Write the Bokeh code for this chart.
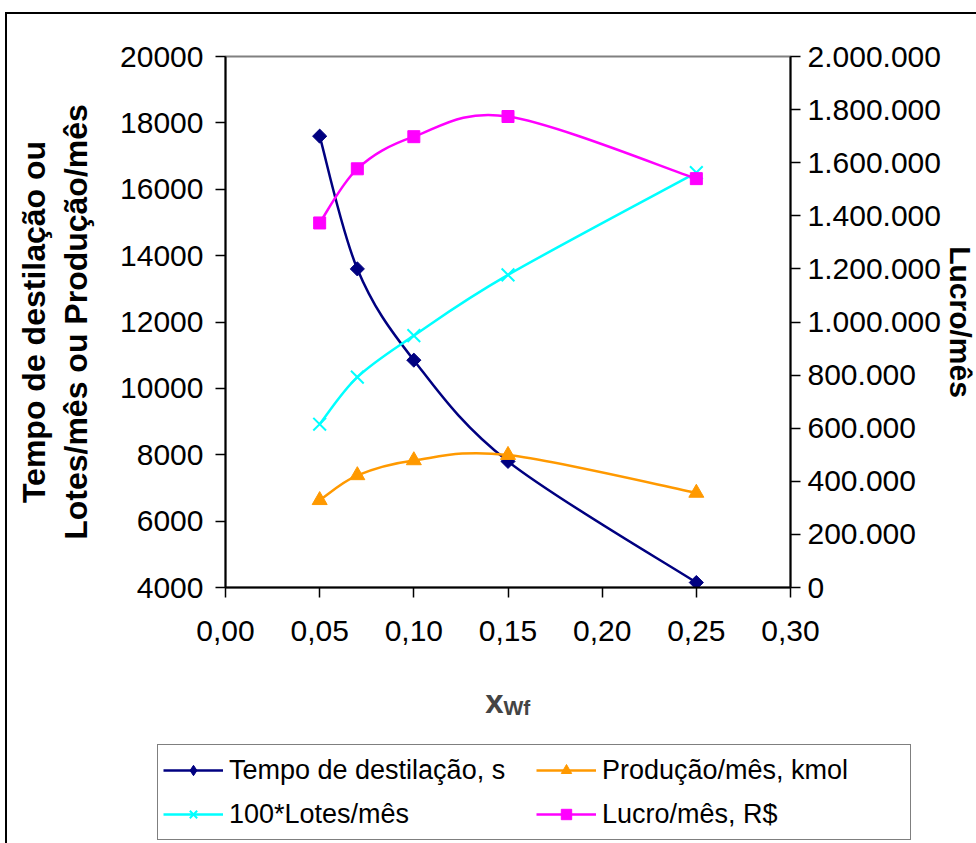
import math

from bokeh.plotting import figure
from bokeh.models import (Range1d, LinearAxis, FixedTicker, Legend, LegendItem,
                          Label, Title, ColumnDataSource)
from bokeh.embed import file_html
from bokeh.resources import INLINE

# ---- data -------------------------------------------------------------
x_wf = [0.05, 0.07, 0.10, 0.15, 0.25]
tempo_destilacao = [17600, 13600, 10850, 7800, 4150]      # s
producao_mes = [6630, 7380, 7830, 7990, 6850]             # kmol
lotes_mes_x100 = [8920, 10340, 11590, 13420, 16500]       # 100*lotes/mes
lucro_mes = [1373000, 1577000, 1698000, 1774000, 1540000]  # R$

x_ticks = [0.0, 0.05, 0.10, 0.15, 0.20, 0.25, 0.30]
x_tick_labels = ["0,00", "0,05", "0,10", "0,15", "0,20", "0,25", "0,30"]
left_ticks = [4000, 6000, 8000, 10000, 12000, 14000, 16000, 18000, 20000]
left_tick_labels = ["4000", "6000", "8000", "10000", "12000", "14000",
                    "16000", "18000", "20000"]
right_ticks = [0, 200000, 400000, 600000, 800000, 1000000, 1200000,
               1400000, 1600000, 1800000, 2000000]
right_tick_labels = ["0", "200.000", "400.000", "600.000", "800.000",
                     "1.000.000", "1.200.000", "1.400.000", "1.600.000",
                     "1.800.000", "2.000.000"]

series_names = ["Tempo de destilação, s", "Produção/mês, kmol",
                "100*Lotes/mês", "Lucro/mês, R$"]

FONT = "Liberation Sans"
NAVY, ORANGE, CYAN, MAGENTA = "#000080", "#FF9900", "#00FFFF", "#FF00FF"
LW = 2.5

STRIP_W = 966
STRIP_H = 183        # strip holding the x title and the legend


def smooth_source(xs, ys):
    """Cubic Bezier pieces through the points (smoothed-line style)."""
    n = len(xs)
    d = {k: [] for k in ("x0", "y0", "x1", "y1", "cx0", "cy0", "cx1", "cy1")}
    for i in range(n - 1):
        a = i - 1 if i > 0 else i
        b = i + 2 if i + 2 < n else i + 1
        d["x0"].append(xs[i]); d["y0"].append(ys[i])
        d["x1"].append(xs[i + 1]); d["y1"].append(ys[i + 1])
        d["cx0"].append(xs[i] + (xs[i + 1] - xs[a]) / 6)
        d["cy0"].append(ys[i] + (ys[i + 1] - ys[a]) / 6)
        d["cx1"].append(xs[i + 1] - (xs[b] - xs[i]) / 6)
        d["cy1"].append(ys[i + 1] - (ys[b] - ys[i]) / 6)
    return ColumnDataSource(d)


# ---- main chart -------------------------------------------------------
p = figure(frame_width=565, frame_height=531,
           min_border_left=218, min_border_top=42,
           min_border_right=186, min_border_bottom=73,
           x_range=Range1d(0.0, 0.30), y_range=Range1d(4000, 20000),
           output_backend="svg", toolbar_location=None, tools="")
p.margin = (12, 0, 0, 5)
p.styles = {"border-left": "2px solid #000000", "border-top": "2px solid #000000"}
p.extra_y_ranges = {"lucro": Range1d(0, 2000000)}
p.xgrid.grid_line_color = None
p.ygrid.grid_line_color = None
p.outline_line_color = "#808080"
p.outline_line_width = 2
p.background_fill_color = "white"
p.border_fill_color = "white"


def style_axis(ax, ticks, labels, standoff):
    ax.ticker = FixedTicker(ticks=ticks, minor_ticks=[])
    ax.major_label_overrides = {t: lab for t, lab in zip(ticks, labels)}
    ax.axis_line_color = "black"
    ax.axis_line_width = 2
    ax.major_tick_line_color = "black"
    ax.major_tick_line_width = 1.5
    ax.major_tick_out = 10
    ax.major_tick_in = 0
    ax.minor_tick_line_color = None
    ax.major_label_text_font = FONT
    ax.major_label_text_font_size = "30px"
    ax.major_label_text_color = "black"
    ax.major_label_standoff = standoff


style_axis(p.xaxis[0], x_ticks, x_tick_labels, 23)
style_axis(p.yaxis[0], left_ticks, left_tick_labels, 12)

right_axis = LinearAxis(y_range_name="lucro")
style_axis(right_axis, right_ticks, right_tick_labels, 7)
p.add_layout(right_axis, "right")

# axis titles
left = p.yaxis[0]
left.axis_label = "Tempo de destilação ou\nLotes/mês ou Produção/mês"
left.axis_label_text_font = FONT
left.axis_label_text_font_style = "bold"
left.axis_label_text_font_size = "32px"
left.axis_label_text_color = "black"
left.axis_label_text_line_height = 1.17
left.axis_label_standoff = 23

p.add_layout(Title(text="Lucro/mês", text_font=FONT, text_font_style="bold",
                   text_font_size="30px", text_color="black", align="center",
                   standoff=0), "right")

bez = dict(x0="x0", y0="y0", x1="x1", y1="y1",
           cx0="cx0", cy0="cy0", cx1="cx1", cy1="cy1")

p.bezier(source=smooth_source(x_wf, tempo_destilacao), line_color=NAVY,
         line_width=LW, **bez)
p.scatter(x_wf, tempo_destilacao, marker="square", angle=math.pi / 4,
          size=10, color=NAVY)

p.bezier(source=smooth_source(x_wf, producao_mes), line_color=ORANGE,
         line_width=LW, **bez)
p.scatter(x_wf, producao_mes, marker="triangle", size=15, color=ORANGE)

p.bezier(source=smooth_source(x_wf, lotes_mes_x100), line_color=CYAN,
         line_width=LW, **bez)
p.scatter(x_wf, lotes_mes_x100, marker="x", size=18, line_color=CYAN,
          line_width=2)

p.bezier(source=smooth_source(x_wf, lucro_mes), line_color=MAGENTA,
         line_width=LW, y_range_name="lucro", **bez)
p.scatter(x_wf, lucro_mes, marker="square", size=12, color=MAGENTA,
          y_range_name="lucro")

# ---- strip below: x title and legend ----------------------------------
# pixel-based ranges for this strip (x right, y up)
q = figure(width=STRIP_W, height=STRIP_H, x_range=Range1d(0, STRIP_W),
           y_range=Range1d(0, STRIP_H), x_axis_type=None, y_axis_type=None,
           min_border=0, output_backend="svg", toolbar_location=None, tools="")
q.margin = (0, 0, 0, 5)
q.styles = {"border-left": "2px solid #000000"}
q.xgrid.grid_line_color = None
q.ygrid.grid_line_color = None
q.outline_line_color = None
q.background_fill_color = "white"
q.border_fill_color = "white"

# "x" with subscript "Wf"
q.add_layout(Label(x=487, y=142, text="x", text_align="center",
                   text_baseline="alphabetic", text_font=FONT,
                   text_font_style="bold", text_font_size="33px"))
q.add_layout(Label(x=496, y=136, text="Wf", text_align="left",
                   text_baseline="alphabetic", text_font=FONT,
                   text_font_style="bold", text_font_size="21px"))

# legend entries: each series re-plotted here, lying outside this strip's
# view so that only its legend sample shows
series = [
    (tempo_destilacao, NAVY, dict(marker="diamond", color=NAVY)),
    (producao_mes, ORANGE, dict(marker="triangle", color=ORANGE)),
    (lotes_mes_x100, CYAN, dict(marker="x", line_color=CYAN, line_width=2)),
    (lucro_mes, MAGENTA, dict(marker="square", color=MAGENTA)),
]
items = []
for name, (ys, col, mk) in zip(series_names, series):
    ln = q.line(x_wf, ys, line_color=col, line_width=LW)
    pt = q.scatter(x_wf, ys, **mk)
    items.append(LegendItem(label=name, renderers=[ln, pt]))

legend = Legend(items=items, orientation="horizontal", ncols=2,
                location=(150, 3))
legend.label_text_font = FONT
legend.label_text_font_size = "27px"
legend.label_text_color = "black"
legend.glyph_width = 60
legend.glyph_height = 26
legend.label_height = 40
legend.label_width = 303
legend.label_standoff = 6
legend.spacing = 4
legend.padding = 5
legend.margin = 0
legend.border_line_color = "black"
legend.border_line_width = 1
legend.background_fill_color = "white"
legend.background_fill_alpha = 1
q.add_layout(legend, "center")

open("out.html", "w").write(file_html([p, q], INLINE))
